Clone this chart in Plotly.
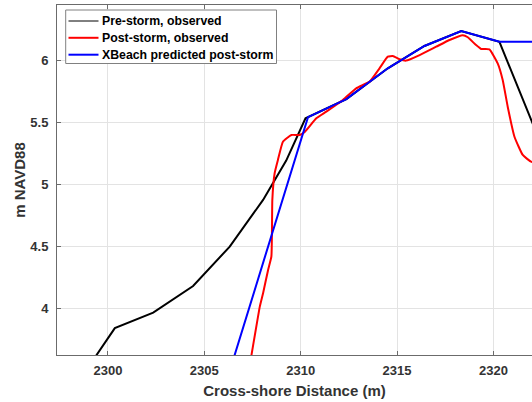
import plotly.graph_objects as go

# Pre-storm, observed
pre_x = [2299.0, 2300.36, 2302.35, 2302.87, 2304.42, 2306.32, 2308.05, 2309.25, 2310.25,
         2312.37, 2314.52, 2316.42, 2318.33, 2320.31, 2322.5]
pre_y = [3.53, 3.84, 3.965, 4.019, 4.18, 4.497, 4.873, 5.19, 5.53,
         5.685, 5.933, 6.113, 6.233, 6.147, 5.31]

# Post-storm, observed
post_x = [2307.30, 2307.45, 2307.88, 2308.05, 2308.31, 2308.48, 2308.51, 2308.53,
          2308.65, 2308.82, 2309.08, 2309.52,
          2309.95, 2310.21, 2310.81, 2311.33, 2312.19, 2312.88, 2313.58, 2314.09,
          2314.52, 2314.78, 2315.13, 2315.47, 2316.17, 2317.03, 2317.72, 2318.41,
          2318.67, 2319.10, 2319.36, 2319.79, 2320.22, 2320.48, 2320.74, 2321.09,
          2321.52, 2321.95, 2322.3]
post_y = [3.49, 3.625, 4.014, 4.122, 4.309, 4.416, 4.605, 4.873,
          5.088, 5.195, 5.342, 5.396,
          5.396, 5.42, 5.53, 5.584, 5.678, 5.772, 5.826, 5.933,
          6.027, 6.032, 6.006, 5.995, 6.04, 6.107, 6.161, 6.20,
          6.183, 6.12, 6.089, 6.086, 5.973, 5.839, 5.624, 5.382,
          5.235, 5.181, 5.17]

# XBeach predicted post-storm
xb_x = [2306.33, 2310.38, 2312.37, 2314.52, 2316.42, 2318.33, 2320.31, 2322.5]
xb_y = [3.50, 5.54, 5.685, 5.933, 6.113, 6.233, 6.147, 6.147]

x_ticks = [2300, 2305, 2310, 2315, 2320]
y_ticks = [4, 4.5, 5, 5.5, 6]
y_tick_text = ["4", "4.5", "5", "5.5", "6"]

series_names = ["Pre-storm, observed", "Post-storm, observed", "XBeach predicted post-storm"]
series_colors = ["#000000", "#ff0000", "#0000ff"]
legend_line_widths = [1, 2, 2]

FONT = "Liberation Sans, Arial, sans-serif"
W, H = 532, 402
ML, MR, MT, MB = 57, 0, 5, 47
PW, PH = W - ML - MR, H - MT - MB


def xp(px):
    return (px - ML) / PW


def yp(py):
    return (H - MB - py) / PH


fig = go.Figure()
fig.add_trace(go.Scatter(x=pre_x, y=pre_y, mode="lines", name=series_names[0], showlegend=False,
                         line=dict(color=series_colors[0], width=2)))
fig.add_trace(go.Scatter(x=post_x, y=post_y, mode="lines", name=series_names[1], showlegend=False,
                         line=dict(color=series_colors[1], width=2, shape="spline", smoothing=0.4)))
fig.add_trace(go.Scatter(x=xb_x, y=xb_y, mode="lines", name=series_names[2], showlegend=False,
                         line=dict(color=series_colors[2], width=2)))

# custom legend box (MATLAB-like compact layout)
box_l, box_r, box_t, box_b = 65.7, 276.5, 10, 63.5
fig.add_shape(type="rect", xref="paper", yref="paper",
              x0=xp(box_l), x1=xp(box_r), y0=yp(box_b), y1=yp(box_t),
              line=dict(color="#808080", width=1), fillcolor="white", layer="above")
row_y = [21.0, 37.8, 54.7]
for name, color, lw, ry in zip(series_names, series_colors, legend_line_widths, row_y):
    fig.add_shape(type="line", xref="paper", yref="paper",
                  x0=xp(68.5), x1=xp(98.5), y0=yp(ry), y1=yp(ry),
                  line=dict(color=color, width=lw), layer="above")
    fig.add_annotation(xref="paper", yref="paper", x=xp(99.5), y=yp(ry),
                       xanchor="left", yanchor="middle", showarrow=False,
                       text="<b>" + name + "</b>",
                       font=dict(family=FONT, size=12.3, color="#000000"))

axis_common = dict(
    showgrid=True, gridcolor="#e3e3e3", gridwidth=1,
    showline=True, linecolor="#6b6b6b", linewidth=1,
    ticks="inside", ticklen=4, tickcolor="#6b6b6b",
    tickfont=dict(family=FONT, size=13, color="#333333", weight="bold"),
    zeroline=False,
)

fig.update_xaxes(
    range=[2297.36, 2322.0], tickvals=x_ticks,
    mirror="ticks", ticklabelstandoff=3,
    title=dict(text="<b>Cross-shore Distance (m)</b>", standoff=8,
               font=dict(family=FONT, size=15, color="#333333")),
    **axis_common,
)
fig.update_yaxes(
    range=[3.624, 6.443], tickvals=y_ticks, ticktext=y_tick_text,
    ticklabelstandoff=5,
    title=dict(text="<b>m NAVD88</b>", standoff=1,
               font=dict(family=FONT, size=15, color="#333333")),
    **axis_common,
)
fig.update_layout(
    width=W, height=H,
    margin=dict(l=ML, r=MR, t=MT, b=MB),
    paper_bgcolor="white", plot_bgcolor="white",
    font=dict(family=FONT, color="#333333"),
    showlegend=False,
)

fig.write_html("out.html")
